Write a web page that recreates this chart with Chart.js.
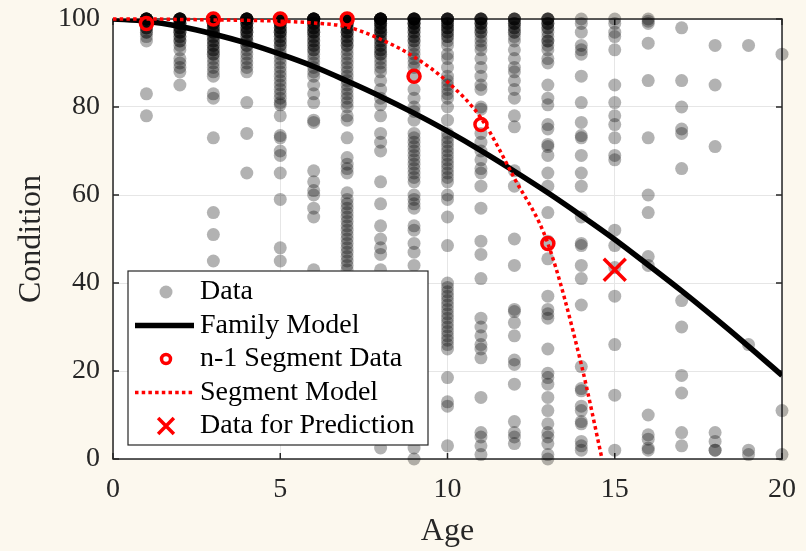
<!DOCTYPE html>
<html>
<head>
<meta charset="utf-8">
<title>Condition vs Age</title>
<script src="https://cdn.jsdelivr.net/npm/chart.js@4.4.1/dist/chart.umd.min.js"></script>
<style>
  html, body { margin: 0; padding: 0; background: #fcf8ee; }
  #wrap { width: 806px; height: 551px; }
</style>
</head>
<body>
<div id="wrap"><canvas id="canvas" width="806" height="551"></canvas></div>
<script>
// observed condition ratings, one list per age (years)
const ageCol1 = [100, 100, 100, 100, 100, 100, 100, 100, 100, 100, 99, 99, 99, 99, 98, 98, 98, 97, 97, 96, 95, 83, 78];
const ageCol2 = [100, 100, 100, 100, 100, 100, 100, 100, 100, 100, 99, 99, 99, 99, 98, 98, 98, 97, 97, 97, 96, 96, 95, 95, 94, 93, 91, 90, 89, 88, 85];
const ageCol3 = [100, 100, 100, 100, 100, 100, 100, 100, 100, 100, 99, 99, 99, 99, 98, 98, 98, 97, 97, 97, 96, 96, 95, 95, 94, 94, 93, 93, 92, 92, 91, 90, 89, 88, 87, 83, 82, 73, 56, 51, 45];
const ageCol4 = [100, 100, 100, 100, 100, 100, 100, 100, 100, 100, 99, 99, 99, 99, 98, 98, 98, 97, 97, 97, 96, 96, 95, 95, 94, 94, 93, 92, 91, 90, 89, 88, 81, 74, 65];
const ageCol5 = [100, 100, 100, 100, 100, 100, 100, 100, 100, 100, 99, 99, 99, 99, 98, 98, 98, 97, 97, 97, 96, 96, 95, 95, 94, 94, 93, 92, 91, 90, 89, 88, 87, 86, 85, 84, 83, 82, 81, 80.5, 78, 73.5, 73, 70, 69, 65, 59, 48, 45];
const ageCol6 = [100, 100, 100, 100, 100, 100, 100, 100, 100, 100, 99, 99, 99, 99, 98, 98, 98, 97, 97, 97, 96, 96, 95, 95, 94, 94, 93, 93, 92, 91, 90, 89, 88, 87, 85, 83, 81, 77, 76.5, 65.5, 63, 61, 60, 57, 55, 43];
const ageCol7 = [100, 100, 100, 100, 100, 100, 100, 100, 100, 100, 99, 99, 99, 99, 98, 98, 98, 97, 97, 97, 96, 96, 95, 95, 94, 94, 93, 92, 91, 90, 89, 88, 87, 86, 85, 84, 83, 82, 81, 80, 78, 77, 73, 68.5, 67, 66, 65, 60.5, 59, 58, 57, 56, 55, 54, 53, 52, 51, 50, 49, 48, 47, 46, 45, 44, 43];
const ageCol8 = [100, 100, 100, 100, 100, 100, 100, 100, 100, 100, 99, 99, 99, 99, 98, 98, 98, 97, 97, 97, 96, 96, 95, 95, 94, 94, 93, 93, 92, 92, 91, 90, 89, 88, 86, 84, 82, 80.5, 78, 74, 72, 70, 63, 58, 53, 50, 48, 46.5, 43, 2.5];
const ageCol9 = [100, 100, 100, 100, 100, 100, 100, 100, 99, 99, 99, 99, 98, 98, 98, 97, 97, 96, 96, 95, 95, 94, 93, 92, 91, 90, 89, 87, 84, 82, 80, 79, 77, 74, 73, 72, 71, 70, 69, 68, 67, 66, 65, 64, 63, 60, 59, 58, 57, 53, 52, 49, 47, 44, 2.5, 0];
const ageCol10 = [100, 100, 100, 100, 100, 100, 99, 99, 99, 98, 98, 98, 97, 97, 96, 96, 95, 94, 92, 91, 89, 87, 86, 85, 84, 83, 82, 80, 77, 74, 73, 72, 71, 70, 69, 68, 67, 66, 65, 64, 63, 60, 59, 55, 48.5, 40, 39, 38, 37, 36, 35, 34, 33, 32, 31, 30, 29, 28, 27, 26, 25, 18.5, 13, 12, 3];
const ageCol11 = [100, 100, 100, 100, 100, 99, 99, 99, 98, 98, 97, 97, 96, 95, 94, 93, 91, 89, 87, 85, 84, 80, 79.5, 74, 72, 70, 68, 66, 65, 62, 57, 49.5, 46.5, 41, 32, 30, 28, 26, 25, 23, 14, 6, 5, 3, 1];
const ageCol12 = [100, 100, 100, 100, 99, 99, 99, 98, 98, 97, 97, 96, 95, 93, 91, 89, 88, 86, 84, 82, 78, 75.5, 65.5, 62, 50, 44, 34, 33.5, 31, 28, 22.5, 21.5, 17, 8.5, 6, 5, 3.5];
const ageCol13 = [100, 100, 100, 100, 99, 99, 99, 98, 98, 97, 96, 95, 95, 94, 93, 91, 90, 85, 82, 80.5, 76, 75, 71.5, 71, 69, 65, 62, 56, 49.5, 45.5, 37, 34, 33, 32, 25, 19.5, 18.5, 17, 14, 11, 8, 6, 5, 3.5, 1, 0];
const ageCol14 = [100, 99, 97, 94, 93, 92, 87, 81, 76.5, 73.5, 73, 69, 65, 62, 55, 49, 48.5, 44, 41, 35, 21, 16, 15.5, 12, 11, 8.5, 8, 4, 3, 2];
const ageCol15 = [100, 99, 97, 96, 93, 85, 81, 78, 76, 73, 69, 68, 52, 48.5, 43.5, 37, 26, 14.5, 2];
const ageCol16 = [100, 99.5, 99, 94.5, 86, 73, 60, 56, 46, 44, 10, 5.5, 4.5, 2.5, 2];
const ageCol17 = [98, 86, 80, 75, 74, 66, 36, 30, 19, 15, 6, 3];
const ageCol18 = [94, 85, 71, 6, 4, 2, 2];
const ageCol19 = [94, 26, 2, 1];
const ageCol20 = [92, 11, 1];

const dataColumns = [
  [1, ageCol1], [2, ageCol2], [3, ageCol3], [4, ageCol4], [5, ageCol5],
  [6, ageCol6], [7, ageCol7], [8, ageCol8], [9, ageCol9], [10, ageCol10],
  [11, ageCol11], [12, ageCol12], [13, ageCol13], [14, ageCol14], [15, ageCol15],
  [16, ageCol16], [17, ageCol17], [18, ageCol18], [19, ageCol19], [20, ageCol20]
];

// family deterioration curve
const familyAge = [0, 1, 2, 3, 4, 5, 6, 7, 8, 9, 10, 11, 12, 13, 14, 15, 16, 17, 18, 19, 20];
const familyCondition = [100, 99.5, 98.3, 96.6, 94.5, 92.0, 89.2, 85.9, 82.4, 78.6, 74.5, 70.1, 65.4, 60.5, 55.3, 49.9, 44.1, 38.2, 32.0, 25.6, 19];

// segment curve
const segmentAge = [0, 1, 2, 3, 4, 5, 6, 7, 8, 9, 10, 11, 12, 13, 14, 14.62];
const segmentCondition = [100, 100, 99.9, 99.8, 99.7, 99.5, 99.1, 98.2, 95.4, 91.4, 85.7, 77.5, 63.8, 49, 21.5, 0];

// n-1 segment inspections
const segDataAge = [1, 3, 5, 7, 9, 11, 13];
const segDataCondition = [99, 100, 100, 100, 87, 76, 49];

// next inspection to predict
const predAge = [15];
const predCondition = [43];

const xTicks = [0, 5, 10, 15, 20];
const yTicks = [0, 20, 40, 60, 80, 100];

const serif = "'Liberation Serif', 'Times New Roman', serif";
const axisColor = '#262626';

function toPoints(xs, ys) {
  return xs.map(function(x, i) { return {x: x, y: ys[i]}; });
}

var observed = [];
dataColumns.forEach(function(col) {
  col[1].forEach(function(v) {
    observed.push({x: col[0], y: v});
  });
});

// box, inward ticks, background and the boxed legend
const framePlugin = {
  id: 'frame',
  beforeDraw: function(chart) {
    var ctx = chart.ctx, a = chart.chartArea;
    ctx.save();
    ctx.fillStyle = '#fcf8ee';
    ctx.fillRect(0, 0, chart.width, chart.height);
    ctx.fillStyle = '#ffffff';
    ctx.fillRect(a.left, a.top, a.right - a.left, a.bottom - a.top);
    ctx.restore();
  },
  beforeDatasetsDraw: function(chart) {
    var ctx = chart.ctx, a = chart.chartArea;
    var xs = chart.scales.x, ys = chart.scales.y;
    var tick = 6;
    ctx.save();
    ctx.strokeStyle = axisColor;
    ctx.lineWidth = 1.5;
    ctx.strokeRect(a.left, a.top, a.right - a.left, a.bottom - a.top);
    ctx.beginPath();
    xTicks.forEach(function(t) {
      var px = xs.getPixelForValue(t);
      ctx.moveTo(px, a.bottom); ctx.lineTo(px, a.bottom - tick);
      ctx.moveTo(px, a.top); ctx.lineTo(px, a.top + tick);
    });
    yTicks.forEach(function(t) {
      var py = ys.getPixelForValue(t);
      ctx.moveTo(a.left, py); ctx.lineTo(a.left + tick, py);
      ctx.moveTo(a.right, py); ctx.lineTo(a.right - tick, py);
    });
    ctx.stroke();
    ctx.restore();
  },
  afterDraw: function(chart) {
    var ctx = chart.ctx, a = chart.chartArea;
    var sets = chart.data.datasets;
    var rowH = 33.5;
    var boxL = a.left + 15, boxW = 300;
    var boxH = 21 + rowH * (sets.length - 1) + 19;
    var boxT = a.bottom - 14 - boxH;
    var markX = boxL + 38, lineL = boxL + 7, lineR = boxL + 66, textX = boxL + 72;

    ctx.save();
    ctx.fillStyle = '#ffffff';
    ctx.fillRect(boxL, boxT, boxW, boxH);
    ctx.strokeStyle = axisColor;
    ctx.lineWidth = 1.2;
    ctx.strokeRect(boxL, boxT, boxW, boxH);

    sets.forEach(function(ds, i) {
      var cy = boxT + 21 + i * rowH;
      ctx.save();
      if (ds.showLine) {
        ctx.strokeStyle = ds.borderColor;
        ctx.lineWidth = ds.borderWidth;
        ctx.setLineDash(ds.borderDash || []);
        ctx.beginPath();
        ctx.moveTo(lineL, cy);
        ctx.lineTo(lineR, cy);
        ctx.stroke();
      } else if (ds.pointStyle === 'crossRot') {
        ctx.strokeStyle = ds.pointBorderColor;
        ctx.lineWidth = ds.pointBorderWidth;
        var r = ds.pointRadius * 0.72 * Math.SQRT1_2;
        ctx.beginPath();
        ctx.moveTo(markX - r, cy - r); ctx.lineTo(markX + r, cy + r);
        ctx.moveTo(markX - r, cy + r); ctx.lineTo(markX + r, cy - r);
        ctx.stroke();
      } else {
        ctx.beginPath();
        ctx.arc(markX, cy, ds.pointRadius * (ds.pointBorderWidth > 1 ? 0.75 : 1), 0, Math.PI * 2);
        if (ds.pointBorderWidth > 1) {
          ctx.strokeStyle = ds.pointBorderColor;
          ctx.lineWidth = ds.pointBorderWidth;
          ctx.stroke();
        } else {
          ctx.fillStyle = ds.pointBackgroundColor;
          ctx.fill();
        }
      }
      ctx.restore();
      ctx.fillStyle = '#000000';
      ctx.font = '28px ' + serif;
      ctx.textBaseline = 'middle';
      ctx.textAlign = 'left';
      ctx.fillText(ds.label, textX, cy);
    });
    ctx.restore();
  }
};

const config = {
  type: 'scatter',
  data: {
    datasets: [
      {
        label: 'Data',
        data: observed,
        order: 5,
        clip: false,
        showLine: false,
        pointRadius: 6.5,
        pointHoverRadius: 6.5,
        pointBorderWidth: 0,
        pointBackgroundColor: 'rgba(0, 0, 0, 0.3)',
        pointBorderColor: 'rgba(0, 0, 0, 0)'
      },
      {
        label: 'Family Model',
        data: toPoints(familyAge, familyCondition),
        order: 4,
        showLine: true,
        borderColor: '#000000',
        borderWidth: 5.5,
        pointRadius: 0,
        cubicInterpolationMode: 'monotone'
      },
      {
        label: 'n-1 Segment Data',
        data: toPoints(segDataAge, segDataCondition),
        order: 2,
        clip: false,
        showLine: false,
        pointRadius: 6,
        pointHoverRadius: 6,
        pointBorderWidth: 3.5,
        pointBorderColor: '#ff0000',
        pointBackgroundColor: 'rgba(0, 0, 0, 0)'
      },
      {
        label: 'Segment Model',
        data: toPoints(segmentAge, segmentCondition),
        order: 3,
        clip: false,
        showLine: true,
        borderColor: '#ff0000',
        borderWidth: 3.5,
        borderDash: [3.5, 3.2],
        pointRadius: 0,
        cubicInterpolationMode: 'monotone'
      },
      {
        label: 'Data for Prediction',
        data: toPoints(predAge, predCondition),
        order: 1,
        clip: false,
        showLine: false,
        pointStyle: 'crossRot',
        pointRadius: 15.5,
        pointHoverRadius: 15.5,
        pointBorderWidth: 3.5,
        pointBorderColor: '#ff0000'
      }
    ]
  },
  options: {
    responsive: false,
    devicePixelRatio: 1,
    animation: false,
    events: [],
    layout: { padding: { top: 19, right: 24, left: 0, bottom: 0 } },
    plugins: {
      legend: { display: false },
      tooltip: { enabled: false }
    },
    scales: {
      x: {
        type: 'linear',
        min: 0,
        max: 20,
        afterBuildTicks: function(scale) { scale.ticks = xTicks.map(function(v) { return {value: v}; }); },
        afterFit: function(scale) {
          scale.height = 92;
          scale.paddingLeft = 0;
          scale.paddingRight = 0;
        },
        ticks: { font: { family: serif, size: 28 }, color: axisColor, padding: 14 },
        grid: { color: '#e6e6e6', lineWidth: 1, drawTicks: false },
        border: { display: false },
        title: { display: true, text: 'Age', font: { family: serif, size: 32 }, color: axisColor, padding: { top: 0, bottom: 0 } }
      },
      y: {
        type: 'linear',
        min: 0,
        max: 100,
        afterBuildTicks: function(scale) { scale.ticks = yTicks.map(function(v) { return {value: v}; }); },
        afterFit: function(scale) {
          scale.width = 113;
          scale.paddingTop = 0;
          scale.paddingBottom = 0;
        },
        ticks: { font: { family: serif, size: 28 }, color: axisColor, padding: 13 },
        grid: { color: '#e6e6e6', lineWidth: 1, drawTicks: false },
        border: { display: false },
        title: { display: true, text: 'Condition', font: { family: serif, size: 32 }, color: axisColor, padding: { top: 12, bottom: 0 } }
      }
    }
  },
  plugins: [framePlugin]
};

new Chart(document.getElementById('canvas'), config);
</script>
</body>
</html>
